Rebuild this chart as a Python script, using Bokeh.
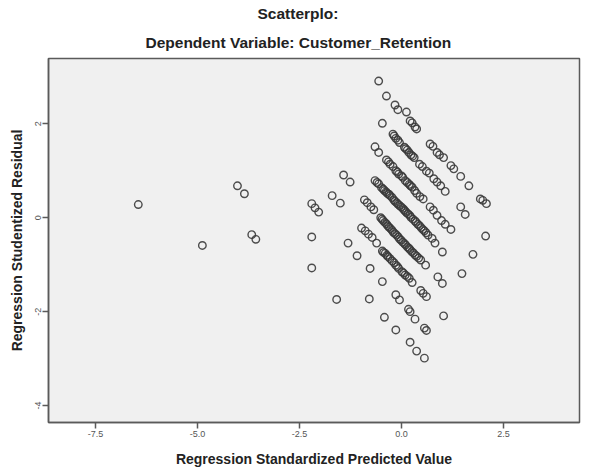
from bokeh.plotting import figure
from bokeh.models import Range1d, FixedTicker, Title, ColumnDataSource
from bokeh.embed import file_html
from bokeh.resources import INLINE

# Regression standardized predicted value (x) and studentized residual (y),
# grouped by the diagonal band each case falls on.
far_pred = [-6.45, -4.88, -4.02, -3.85, -3.67, -3.57]
far_resid = [0.28, -0.59, 0.68, 0.51, -0.36, -0.46]

band_a_pred = [-0.56, -0.37, -0.16, -0.09, 0.12, 0.21, 0.26, 0.33, 0.37,
               0.70, 0.77, 0.87, 0.93, 1.03, 1.21, 1.28, 1.45, 1.65, 1.93, 1.99, 2.08]
band_a_resid = [2.91, 2.59, 2.40, 2.30, 2.25, 2.06, 2.02, 1.93, 1.89,
                1.57, 1.52, 1.39, 1.34, 1.28, 1.11, 1.04, 0.88, 0.68, 0.40, 0.37, 0.30]

band_b_pred = [-0.47, -0.21, -0.18, -0.14, -0.09, -0.05, 0.07, 0.10, 0.14, 0.18, 0.23, 0.27, 0.31,
               0.44, 0.51, 0.61, 0.68, 0.79, 0.87, 0.96, 1.07, 1.45, 1.56, 2.06]
band_b_resid = [2.01, 1.78, 1.74, 1.69, 1.65, 1.60, 1.50, 1.47, 1.44, 1.39, 1.34, 1.31, 1.28,
                1.14, 1.09, 0.99, 0.95, 0.83, 0.76, 0.68, 0.56, 0.23, 0.07, -0.39]

band_c_pred = [-0.65, -0.56, -0.37, -0.32, -0.28, -0.21, -0.14, -0.10, -0.07, 0.00, 0.03, 0.09, 0.14,
               0.19, 0.22, 0.26, 0.32, 0.37, 0.45, 0.53, 0.70, 0.78, 0.87, 0.98, 1.07, 1.21, 1.75]
band_c_resid = [1.51, 1.39, 1.23, 1.19, 1.14, 1.09, 1.00, 0.97, 0.93, 0.89, 0.86, 0.79, 0.75,
                0.71, 0.68, 0.65, 0.58, 0.52, 0.45, 0.40, 0.23, 0.16, 0.05, -0.06, -0.14, -0.25, -0.78]

band_d_pred = [-0.65, -0.60, -0.56, -0.49, -0.45, -0.42, -0.38, -0.35, -0.31, -0.28, -0.23, -0.19,
               -0.16, -0.12, -0.09, -0.05, -0.01, 0.03, 0.06, 0.09, 0.12, 0.16, 0.20, 0.23, 0.28,
               0.33, 0.36, 0.40, 0.44, 0.48, 0.52, 0.56, 0.60, 0.65, 0.75, 0.82, 1.00, 1.48]
band_d_resid = [0.79, 0.75, 0.72, 0.64, 0.61, 0.58, 0.55, 0.52, 0.50, 0.47, 0.43, 0.38,
                0.35, 0.32, 0.29, 0.26, 0.23, 0.20, 0.17, 0.14, 0.11, 0.08, 0.05, 0.01, -0.03,
                -0.07, -0.10, -0.14, -0.17, -0.21, -0.25, -0.28, -0.32, -0.37, -0.44, -0.54, -0.73, -1.19]

band_e_pred = [-1.42, -1.26, -0.91, -0.84, -0.75, -0.68, -0.51, -0.48, -0.45, -0.41, -0.37, -0.34,
               -0.31, -0.27, -0.23, -0.20, -0.16, -0.12, -0.08, -0.05, -0.01, 0.03, 0.07, 0.10,
               0.14, 0.18, 0.21, 0.25, 0.29, 0.33, 0.37, 0.42, 0.47, 0.59, 0.89, 1.00]
band_e_resid = [0.91, 0.76, 0.38, 0.32, 0.23, 0.17, 0.00, -0.03, -0.06, -0.10, -0.13, -0.17,
                -0.20, -0.23, -0.27, -0.31, -0.34, -0.37, -0.41, -0.45, -0.48, -0.52, -0.55, -0.58,
                -0.62, -0.65, -0.68, -0.72, -0.75, -0.79, -0.82, -0.86, -0.90, -1.01, -1.26, -1.40]

band_f_pred = [-1.70, -1.50, -0.98, -0.89, -0.81, -0.72, -0.61, -0.47, -0.44, -0.40, -0.36, -0.33,
               -0.28, -0.23, -0.18, -0.14, -0.10, -0.07, 0.01, 0.05, 0.09, 0.14, 0.19, 0.26,
               0.47, 0.53, 0.61, 1.03]
band_f_resid = [0.47, 0.31, -0.22, -0.28, -0.35, -0.42, -0.54, -0.71, -0.74, -0.76, -0.80, -0.83,
                -0.87, -0.92, -0.96, -1.01, -1.04, -1.08, -1.15, -1.18, -1.22, -1.25, -1.29, -1.38,
                -1.55, -1.61, -1.68, -2.09]

band_g_pred = [-2.20, -2.12, -2.03, -1.31, -1.09, -0.77, -0.47, -0.14, -0.05, 0.17, 0.21, 0.33, 0.56, 0.61]
band_g_resid = [0.30, 0.21, 0.12, -0.54, -0.81, -1.08, -1.36, -1.64, -1.75, -1.95, -2.00, -2.16, -2.35, -2.40]

band_h_pred = [-2.20, -0.79, -0.42, -0.14, 0.21, 0.37, 0.56]
band_h_resid = [-0.41, -1.73, -2.12, -2.39, -2.65, -2.84, -2.99]

band_i_pred = [-2.20, -1.59]
band_i_resid = [-1.07, -1.74]

x_ticks = [-7.5, -5.0, -2.5, 0.0, 2.5]
x_tick_labels = ["-7.5", "-5.0", "-2.5", "0.0", "2.5"]
y_ticks = [-4, -2, 0, 2]
y_tick_labels = ["-4", "-2", "0", "2"]

pred = (far_pred + band_a_pred + band_b_pred + band_c_pred + band_d_pred
        + band_e_pred + band_f_pred + band_g_pred + band_h_pred + band_i_pred)
resid = (far_resid + band_a_resid + band_b_resid + band_c_resid + band_d_resid
         + band_e_resid + band_f_resid + band_g_resid + band_h_resid + band_i_resid)

source = ColumnDataSource(data=dict(pred=pred, resid=resid))

FONT = "Liberation Sans"

p = figure(width=597, height=469, output_backend="svg", toolbar_location=None,
           x_range=Range1d(-8.65, 4.36), y_range=Range1d(-4.36, 3.39),
           title_location=None,
           min_border_left=48, min_border_right=18,
           min_border_top=58, min_border_bottom=45)

p.background_fill_color = "#f0f0f0"
p.border_fill_color = "white"
p.outline_line_color = "#5a5a5a"
p.outline_line_width = 1.5
p.xgrid.visible = False
p.ygrid.visible = False

# Titles are left-aligned with an offset so that they sit centred on the page
sub = Title(text="Dependent Variable: Customer_Retention", align="left", offset=97,
            text_font=FONT, text_font_size="15.5px", text_font_style="bold",
            text_color="#222222", standoff=16)
main = Title(text="Scatterplo:", align="left", offset=209,
             text_font=FONT, text_font_size="15.5px", text_font_style="bold",
             text_color="#222222", standoff=4)
p.add_layout(sub, "above")
p.add_layout(main, "above")

p.scatter("pred", "resid", source=source, marker="circle", size=7.5,
          fill_color=None, line_color="#3a3a3a", line_width=1.4, line_alpha=0.9)

p.xaxis.ticker = FixedTicker(ticks=x_ticks)
p.xaxis.major_label_overrides = {t: s for t, s in zip(x_ticks, x_tick_labels)}
p.yaxis.ticker = FixedTicker(ticks=y_ticks)
p.yaxis.major_label_overrides = {t: s for t, s in zip(y_ticks, y_tick_labels)}
p.yaxis.major_label_orientation = "vertical"

for ax in (p.xaxis[0], p.yaxis[0]):
    ax.axis_line_color = "#5a5a5a"
    ax.axis_line_width = 1.5
    ax.major_tick_line_color = "#5a5a5a"
    ax.major_tick_line_width = 1.5
    ax.major_tick_out = 6
    ax.major_tick_in = 0
    ax.minor_tick_line_color = None
    ax.major_label_text_font = FONT
    ax.major_label_text_font_size = "9px"
    ax.major_label_text_color = "#555555"
    ax.axis_label_text_font = FONT
    ax.axis_label_text_font_size = "14px"
    ax.axis_label_text_font_style = "bold"
    ax.axis_label_text_color = "#222222"

p.xaxis.axis_label = "Regression Standardized Predicted Value"
p.yaxis.axis_label = "Regression Studentized Residual"
p.xaxis.major_label_standoff = 2
p.yaxis.major_label_standoff = 1
p.xaxis.axis_label_standoff = 11
p.yaxis.axis_label_standoff = 8

open("out.html", "w").write(file_html(p, INLINE))
